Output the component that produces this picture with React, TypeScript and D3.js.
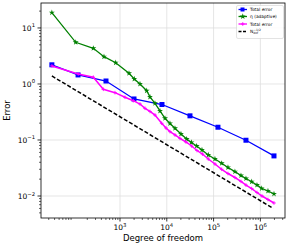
import React from "react";
import * as d3 from "d3";

// degree of freedom / error
const uniformDof = [35, 127, 502, 1991, 7890, 31300, 124000, 492000, 1954000];
const uniformErr = [2.2, 1.45, 1.13, 0.54, 0.43, 0.27, 0.169, 0.099, 0.052];

const etaDof = [35, 113, 269, 455, 809, 1557, 2020, 2675, 3720, 4375, 5596, 7160, 9160, 11700,
  14970, 20100, 26600, 33700, 43500, 56500, 77100, 107000, 149000, 203000, 286000, 385000,
  492000, 652000, 846000, 1066000, 1453000, 1954000];
const etaErr = [18.8, 5.55, 4.34, 3.07, 2.4, 1.55, 1.23, 1.0, 0.759, 0.586, 0.452, 0.33, 0.244,
  0.197, 0.162, 0.128, 0.104, 0.0902, 0.0781, 0.0663, 0.054, 0.0458, 0.0384, 0.0323, 0.0272,
  0.0232, 0.0205, 0.018, 0.0157, 0.0137, 0.0123, 0.0109];

const adaptDof = [35, 128, 269, 440, 782, 1279, 1924, 2675, 3421, 4375, 5596, 7780, 9610, 11700,
  14970, 19140, 25700, 34000, 44200, 57900, 77100, 107000, 149000, 203000, 286000, 385000,
  492000, 652000, 846000, 1082000, 1453000, 1954000];
const adaptErr = [2.1, 1.51, 1.32, 0.804, 0.7, 0.579, 0.503, 0.439, 0.368, 0.323, 0.279, 0.199,
  0.164, 0.141, 0.123, 0.107, 0.0921, 0.0781, 0.0649, 0.0562, 0.0458, 0.0373, 0.03, 0.0252,
  0.0214, 0.0182, 0.0157, 0.0136, 0.01155, 0.01, 0.00866, 0.0075];

const refDof = [35, 1890000];
const refErr = [1.39, 0.006];

const xTicks = [1e3, 1e4, 1e5, 1e6];
const yTicks = [1e1, 1e0, 1e-1, 1e-2];
const xTickExp = ["3", "4", "5", "6"];
const yTickExp = ["1", "0", "\u22121", "\u22122"];
const legendLabels = ["Total error", "\u03b7 (adaptive)", "Total error"];

const W = 289;
const H = 247;
const font = "DejaVu Sans, sans-serif";

export default function App() {
  const x = d3.scaleLog().domain([20.5, 3.36e6]).range([41, 285]);
  const y = d3.scaleLog().domain([0.00405, 27.9]).range([218, 3]);

  const line = (xs: number[], ys: number[]) =>
    d3.line<number>().x((d, i) => x(xs[i])).y((d) => y(d))(ys) || "";

  const star = d3.symbol().type(d3.symbolStar).size(11)() || "";
  const [x0, x1] = x.range();
  const [y0, y1] = y.range();

  // minor ticks
  const xMinor: number[] = [];
  for (let e = 1; e <= 6; e++)
    for (let k = 2; k <= 9; k++) {
      const v = k * Math.pow(10, e);
      if (v > 20.5 && v < 3.36e6) xMinor.push(v);
    }
  const yMinor: number[] = [];
  for (let e = -3; e <= 1; e++)
    for (let k = 2; k <= 9; k++) {
      const v = k * Math.pow(10, e);
      if (v > 0.00405 && v < 27.9) yMinor.push(v);
    }

  const plus = (cx: number, cy: number, key: string | number) => (
    <path key={key} d={`M${cx - 1.8},${cy}H${cx + 1.8}M${cx},${cy - 1.8}V${cy + 1.8}`}
      stroke="#ff00ff" strokeWidth={0.9} />
  );

  const legY = [9.5, 16.5, 24, 31.5];

  return (
    <svg width={W} height={H} style={{ position: "absolute", left: 0, top: 0, background: "#fff" }}
      fontFamily={font}>
      {/* grid */}
      {xTicks.map((t) => (
        <line key={"gx" + t} x1={x(t)} x2={x(t)} y1={y0} y2={y1} stroke="#dedede" strokeWidth={0.8} />
      ))}
      {yTicks.map((t) => (
        <line key={"gy" + t} x1={x0} x2={x1} y1={y(t)} y2={y(t)} stroke="#dedede" strokeWidth={0.8} />
      ))}

      {/* reference slope */}
      <path d={line(refDof, refErr)} fill="none" stroke="#000" strokeWidth={1.5} strokeDasharray="4,2" />

      {/* uniform total error */}
      <path d={line(uniformDof, uniformErr)} fill="none" stroke="#0000ff" strokeWidth={1.3} />
      {uniformDof.map((d, i) => (
        <rect key={"b" + i} x={x(d) - 2.5} y={y(uniformErr[i]) - 2.5} width={5} height={5} fill="#0000ff" />
      ))}

      {/* eta adaptive */}
      <path d={line(etaDof, etaErr)} fill="none" stroke="#008000" strokeWidth={1.3} />
      {etaDof.map((d, i) => (
        <path key={"g" + i} d={star} transform={`translate(${x(d)},${y(etaErr[i])})`} fill="#008000" />
      ))}

      {/* adaptive total error */}
      <path d={line(adaptDof, adaptErr)} fill="none" stroke="#ff00ff" strokeWidth={1.5} />
      {adaptDof.map((d, i) => plus(x(d), y(adaptErr[i]), "m" + i))}

      {/* spines */}
      <rect x={x0} y={y1} width={x1 - x0} height={y0 - y1} fill="none" stroke="#000" strokeWidth={0.8} />

      {/* x ticks */}
      {xTicks.map((t, i) => (
        <g key={"xt" + t} transform={`translate(${x(t)},${y0})`}>
          <line y2={3.5} stroke="#000" strokeWidth={0.8} />
          <text y={12} textAnchor="middle" fontSize={7.5}>
            10<tspan dy={-3.5} fontSize={5.3}>{xTickExp[i]}</tspan>
          </text>
        </g>
      ))}
      {xMinor.map((t) => (
        <line key={"xm" + t} x1={x(t)} x2={x(t)} y1={y0} y2={y0 + 2} stroke="#000" strokeWidth={0.6} />
      ))}

      {/* y ticks */}
      {yTicks.map((t, i) => (
        <g key={"yt" + t} transform={`translate(${x0},${y(t)})`}>
          <line x2={-3.5} stroke="#000" strokeWidth={0.8} />
          <text x={-6} dy={3} textAnchor="end" fontSize={7.5}>
            10<tspan dy={-3.5} fontSize={5.3}>{yTickExp[i]}</tspan>
          </text>
        </g>
      ))}
      {yMinor.map((t) => (
        <line key={"ym" + t} x1={x0} x2={x0 - 2} y1={y(t)} y2={y(t)} stroke="#000" strokeWidth={0.6} />
      ))}

      {/* axis labels */}
      <text x={(x0 + x1) / 2} y={241} textAnchor="middle" fontSize={8.5}>Degree of freedom</text>
      <text transform={`translate(10,${(y0 + y1) / 2}) rotate(-90)`} textAnchor="middle" fontSize={8.5}>Error</text>

      {/* legend */}
      <g>
        <rect x={236.5} y={5.5} width={47} height={33} rx={1.5} fill="#fff" fillOpacity={0.85}
          stroke="#d0d0d0" strokeWidth={0.6} />
        <line x1={238.5} x2={247} y1={legY[0]} y2={legY[0]} stroke="#0000ff" strokeWidth={1.3} />
        <rect x={240.5} y={legY[0] - 2} width={4} height={4} fill="#0000ff" />
        <line x1={238.5} x2={247} y1={legY[1]} y2={legY[1]} stroke="#008000" strokeWidth={1.3} />
        <path d={star} transform={`translate(242.75,${legY[1]})`} fill="#008000" />
        <line x1={238.5} x2={247} y1={legY[2]} y2={legY[2]} stroke="#ff00ff" strokeWidth={1.3} />
        {plus(242.75, legY[2], "lp")}
        <line x1={238.5} x2={247} y1={legY[3]} y2={legY[3]} stroke="#000" strokeWidth={1.3} strokeDasharray="3,1.5" />
        {legendLabels.map((l, i) => (
          <text key={"l" + i} x={250} y={legY[i] + 1.5} fontSize={4.4}>{l}</text>
        ))}
        <text x={250} y={legY[3] + 1.5} fontSize={4.4}>
          N<tspan dy={1.2} fontSize={3}>dof</tspan>
          <tspan dx={-4.5} dy={-3.4} fontSize={3}>{"\u22121/2"}</tspan>
        </text>
      </g>
    </svg>
  );
}
